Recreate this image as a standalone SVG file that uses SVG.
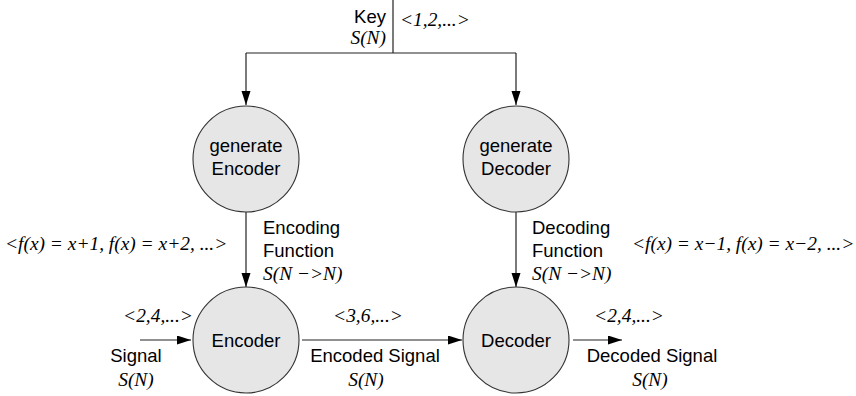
<svg xmlns="http://www.w3.org/2000/svg" width="856" height="396" viewBox="0 0 856 396">
<defs>
<style>
.sans{font-family:"Liberation Sans",Arial,sans-serif;font-size:18.5px;fill:#000}
.ser{font-family:"Liberation Serif","Times New Roman",serif;font-style:italic;font-size:19.4px;fill:#000}
.node{fill:#e6e6e6;stroke:#333;stroke-width:1.1}
.c{fill:none;stroke:#222;stroke-width:1.2}
</style>
<marker id="ah" markerUnits="userSpaceOnUse" markerWidth="15" markerHeight="10" refX="14" refY="4.5" orient="auto" viewBox="0 0 15 10">
<path d="M0,0 L14,4.5 L0,9 z" fill="#000"/>
</marker>
</defs>
<rect width="856" height="396" fill="#fff"/>
<g id="connectors">
<line class="c" x1="393" y1="0" x2="393" y2="53"/>
<line class="c" x1="246" y1="53" x2="516" y2="53"/>
<line class="c" x1="246" y1="53" x2="246" y2="105" marker-end="url(#ah)"/>
<line class="c" x1="516" y1="53" x2="516" y2="105" marker-end="url(#ah)"/>
<line class="c" x1="246" y1="212" x2="246" y2="287" marker-end="url(#ah)"/>
<line class="c" x1="516" y1="212" x2="516" y2="287" marker-end="url(#ah)"/>
<line class="c" x1="140" y1="340" x2="191" y2="340" marker-end="url(#ah)"/>
<line class="c" x1="302" y1="340" x2="462" y2="340" marker-end="url(#ah)"/>
<line class="c" x1="573" y1="340" x2="622" y2="340" marker-end="url(#ah)"/>
</g>
<g id="key">
<text class="sans" x="386" y="23" text-anchor="end">Key</text>
<text class="ser" x="386" y="44" text-anchor="end">S(N)</text>
<text class="ser" x="400" y="26">&lt;1,2,...&gt;</text>
</g>
<g id="generateEncoder">
<circle class="node" cx="246" cy="159" r="53"/>
<text class="sans" x="246" y="152" text-anchor="middle">generate</text>
<text class="sans" x="246" y="175" text-anchor="middle">Encoder</text>
</g>
<g id="generateDecoder">
<circle class="node" cx="516" cy="159" r="53"/>
<text class="sans" x="516" y="152" text-anchor="middle">generate</text>
<text class="sans" x="516" y="175" text-anchor="middle">Decoder</text>
</g>
<g id="encoder">
<circle class="node" cx="246" cy="340" r="53"/>
<text class="sans" x="246" y="347" text-anchor="middle">Encoder</text>
</g>
<g id="decoder">
<circle class="node" cx="516" cy="340" r="53"/>
<text class="sans" x="516" y="347" text-anchor="middle">Decoder</text>
</g>
<g id="labels">
<text class="sans" x="263" y="234">Encoding</text>
<text class="sans" x="263" y="257">Function</text>
<text class="ser" x="263" y="280">S(N −&gt;N)</text>
<text class="ser" x="5" y="250">&lt;f(x) = x+1, f(x) = x+2, ...&gt;</text>
<text class="sans" x="532" y="234">Decoding</text>
<text class="sans" x="532" y="257">Function</text>
<text class="ser" x="532" y="280">S(N −&gt;N)</text>
<text class="ser" x="632" y="250">&lt;f(x) = x−1, f(x) = x−2, ...&gt;</text>
<text class="ser" x="158" y="322" text-anchor="middle">&lt;2,4,...&gt;</text>
<text class="sans" x="136" y="362" text-anchor="middle">Signal</text>
<text class="ser" x="136" y="386" text-anchor="middle">S(N)</text>
<text class="ser" x="368" y="322" text-anchor="middle">&lt;3,6,...&gt;</text>
<text class="sans" x="375" y="362" text-anchor="middle">Encoded Signal</text>
<text class="ser" x="366" y="386" text-anchor="middle">S(N)</text>
<text class="ser" x="629" y="322" text-anchor="middle">&lt;2,4,...&gt;</text>
<text class="sans" x="652" y="362" text-anchor="middle">Decoded Signal</text>
<text class="ser" x="650" y="386" text-anchor="middle">S(N)</text>
</g>
</svg>
